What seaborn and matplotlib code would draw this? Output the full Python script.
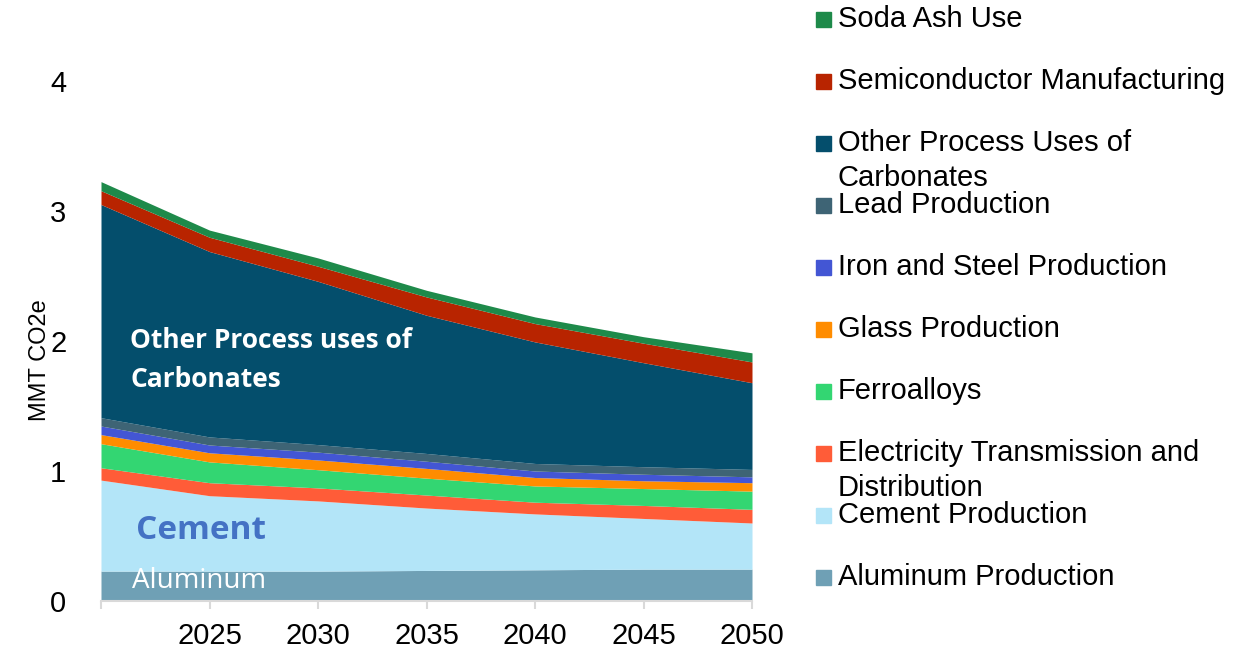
import matplotlib
matplotlib.use("Agg")
import matplotlib.pyplot as plt
from matplotlib.patches import Rectangle
import seaborn as sns

# values (MMT CO2e), stacked bottom -> top
years = [2020, 2025, 2030, 2035, 2040, 2045, 2050]
aluminum = [0.23, 0.23, 0.23, 0.235, 0.24, 0.245, 0.245]
cement = [0.70, 0.58, 0.54, 0.48, 0.43, 0.39, 0.355]
electricity = [0.095, 0.10, 0.10, 0.10, 0.09, 0.10, 0.105]
ferroalloys = [0.185, 0.16, 0.14, 0.13, 0.125, 0.13, 0.14]
glass = [0.07, 0.07, 0.075, 0.075, 0.065, 0.06, 0.065]
iron_steel = [0.066, 0.06, 0.06, 0.055, 0.05, 0.05, 0.045]
lead = [0.064, 0.062, 0.058, 0.06, 0.058, 0.058, 0.057]
other_carbonates = [1.64, 1.426, 1.256, 1.063, 0.935, 0.80, 0.667]
semiconductor = [0.106, 0.11, 0.116, 0.141, 0.141, 0.15, 0.16]
soda_ash = [0.07, 0.055, 0.064, 0.051, 0.051, 0.05, 0.07]

series = [aluminum, cement, electricity, ferroalloys, glass,
          iron_steel, lead, other_carbonates, semiconductor, soda_ash]
labels = ["Aluminum Production", "Cement Production",
          "Electricity Transmission and\nDistribution", "Ferroalloys",
          "Glass Production", "Iron and Steel Production", "Lead Production",
          "Other Process Uses of\nCarbonates", "Semiconductor Manufacturing",
          "Soda Ash Use"]
colors = ["#6fa0b5", "#b3e5f8", "#ff5c38", "#33d672", "#ff8c00",
          "#4356d4", "#3e6475", "#044e6c", "#b82400", "#1e8a4a"]

sns.set_theme(style="white")
plt.rcParams["font.family"] = ["Liberation Sans", "DejaVu Sans"]
plt.rcParams["text.color"] = "black"

W, H = 1253, 652
fig = plt.figure(figsize=(W / 100, H / 100), dpi=100)
ax = fig.add_axes([101 / W, 1 - 601 / H, (752 - 101) / W, (601 - 81) / H])

ax.stackplot(years, *series, colors=colors, linewidth=0)

ax.set_xlim(2020, 2050)
ax.set_ylim(0, 4)
ax.set_xticks([2020, 2025, 2030, 2035, 2040, 2045, 2050])
ax.set_xticklabels(["", "2025", "2030", "2035", "2040", "2045", "2050"])
ax.set_yticks([0, 1, 2, 3, 4])
ax.tick_params(axis="x", labelsize=21, colors="#d9d9d9", labelcolor="black",
               direction="out", length=6, width=1.5, pad=9, bottom=True)
ax.tick_params(axis="y", labelsize=21, labelcolor="black", left=False, pad=19)
for s in ["top", "right", "left"]:
    ax.spines[s].set_visible(False)
ax.spines["bottom"].set_color("#d9d9d9")
ax.spines["bottom"].set_linewidth(1.5)
ax.set_ylabel("MMT CO2e", fontsize=17, color="black")
ax.yaxis.set_label_coords(-0.077, 0.463)

# labels inside the areas
ax.text(2021.34, 1.855, "Other Process uses of\nCarbonates", color="white",
        fontsize=19, fontweight="bold", family=["Open Sans", "DejaVu Sans"],
        ha="left", va="center", linespacing=1.55)
ax.text(2021.62, 0.545, "Cement", color="#4472c4", fontsize=24,
        fontweight="bold", family=["Open Sans", "DejaVu Sans"],
        ha="left", va="center")
ax.text(2021.43, 0.15, "Aluminum", color="white", fontsize=20,
        family=["Open Sans", "DejaVu Sans"], ha="left", va="center")

# legend on the right, top entry first
for i, (lab, col) in enumerate(zip(labels[::-1], colors[::-1])):
    yc = 19 + 62 * i
    fig.patches.append(Rectangle((816 / W, 1 - (yc + 8) / H), 15 / W, 15 / H,
                                 transform=fig.transFigure, color=col))
    for j, line in enumerate(lab.split("\n")):
        fig.text(838 / W, 1 - (yc + 35 * j) / H, line, fontsize=21,
                 color="black", ha="left", va="center")

fig.savefig("out.png", dpi=100)
